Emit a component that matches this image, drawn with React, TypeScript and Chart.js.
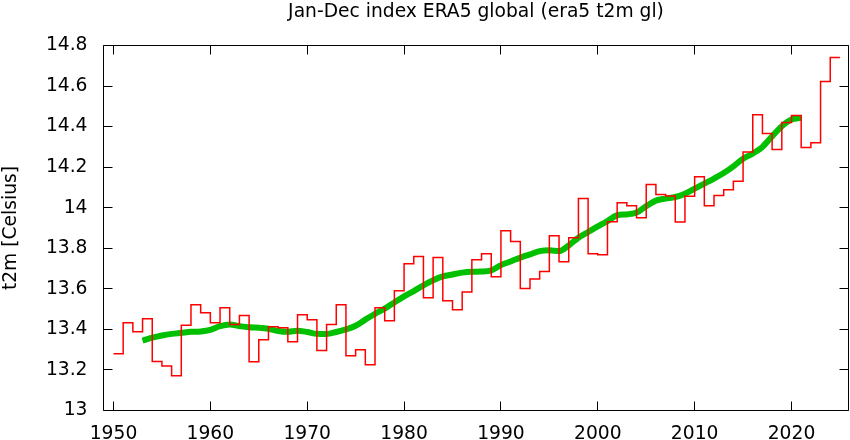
import { useEffect, useRef } from "react";
import { Chart, registerables } from "chart.js";

Chart.register(...registerables);

const TITLE = "Jan-Dec index ERA5 global (era5 t2m gl)";
const Y_TITLE = "t2m [Celsius]";

const annualYears = [
  1950, 1951, 1952, 1953, 1954, 1955, 1956, 1957, 1958, 1959,
  1960, 1961, 1962, 1963, 1964, 1965, 1966, 1967, 1968, 1969,
  1970, 1971, 1972, 1973, 1974, 1975, 1976, 1977, 1978, 1979,
  1980, 1981, 1982, 1983, 1984, 1985, 1986, 1987, 1988, 1989,
  1990, 1991, 1992, 1993, 1994, 1995, 1996, 1997, 1998, 1999,
  2000, 2001, 2002, 2003, 2004, 2005, 2006, 2007, 2008, 2009,
  2010, 2011, 2012, 2013, 2014, 2015, 2016, 2017, 2018, 2019,
  2020, 2021, 2022, 2023, 2024,
];

const annualValues = [
  13.28, 13.433, 13.388, 13.453, 13.242, 13.22, 13.171, 13.42, 13.522, 13.482,
  13.433, 13.507, 13.424, 13.468, 13.241, 13.349, 13.413, 13.408, 13.339, 13.472,
  13.448, 13.296, 13.424, 13.522, 13.27, 13.3, 13.226, 13.507, 13.443, 13.591,
  13.724, 13.76, 13.556, 13.754, 13.541, 13.497, 13.585, 13.744, 13.773, 13.66,
  13.887, 13.834, 13.602, 13.649, 13.685, 13.862, 13.734, 13.852, 14.045, 13.773,
  13.768, 13.931, 14.025, 14.01, 13.951, 14.114, 14.065, 14.058, 13.93, 14.056,
  14.153, 14.01, 14.06, 14.089, 14.13, 14.275, 14.459, 14.366, 14.287, 14.42,
  14.455, 14.297, 14.321, 14.622, 14.741,
];

const smoothYears = [
  1953, 1954, 1955, 1956, 1957, 1958, 1959,
  1960, 1961, 1962, 1963, 1964, 1965, 1966, 1967, 1968, 1969,
  1970, 1971, 1972, 1973, 1974, 1975, 1976, 1977, 1978, 1979,
  1980, 1981, 1982, 1983, 1984, 1985, 1986, 1987, 1988, 1989,
  1990, 1991, 1992, 1993, 1994, 1995, 1996, 1997, 1998, 1999,
  2000, 2001, 2002, 2003, 2004, 2005, 2006, 2007, 2008, 2009,
  2010, 2011, 2012, 2013, 2014, 2015, 2016, 2017, 2018, 2019,
  2020, 2021,
];

const smoothValues = [
  13.344, 13.359, 13.37, 13.378, 13.383, 13.388, 13.39,
  13.398, 13.416, 13.424, 13.416, 13.41, 13.408, 13.403, 13.392, 13.388, 13.393,
  13.387, 13.378, 13.377, 13.387, 13.4, 13.418, 13.448, 13.477, 13.502, 13.533,
  13.563, 13.589, 13.617, 13.642, 13.661, 13.671, 13.68, 13.684, 13.685, 13.691,
  13.717, 13.735, 13.754, 13.77, 13.786, 13.79, 13.786, 13.814, 13.852, 13.88,
  13.908, 13.934, 13.963, 13.967, 13.976, 14.008, 14.035, 14.045, 14.053, 14.069,
  14.094, 14.119, 14.144, 14.171, 14.204, 14.242, 14.267, 14.3, 14.352, 14.402,
  14.435, 14.443,
];

const xTickValues = [1950, 1960, 1970, 1980, 1990, 2000, 2010, 2020];
const yTickValues = [13, 13.2, 13.4, 13.6, 13.8, 14, 14.2, 14.4, 14.6, 14.8];

const X_MIN = 1948.968;
const X_MAX = 2025.885;
const Y_MIN = 13;
const Y_MAX = 14.8;

const FONT_FAMILY = "'DejaVu Sans', sans-serif";
const FONT_SIZE = 18.7;
const TICK_LEN = 9;

const framePlugin = {
  id: "gnuFrame",
  afterDraw(chart: any) {
    const { ctx, chartArea, scales } = chart;
    const { left, right, top, bottom } = chartArea;
    const x = scales.x;
    const y = scales.y;
    ctx.save();
    ctx.strokeStyle = "#000";
    ctx.lineWidth = 1;
    ctx.beginPath();
    const L = Math.floor(left) + 0.5;
    const R = Math.floor(right) + 0.5;
    const T = Math.floor(top) + 0.5;
    const B = Math.floor(bottom) + 0.5;
    ctx.rect(L, T, R - L, B - T);
    for (const v of xTickValues) {
      const px = Math.floor(x.getPixelForValue(v)) + 0.5;
      ctx.moveTo(px, B);
      ctx.lineTo(px, B - TICK_LEN);
      ctx.moveTo(px, T);
      ctx.lineTo(px, T + TICK_LEN);
    }
    for (const v of yTickValues) {
      const py = Math.floor(y.getPixelForValue(v)) + 0.5;
      ctx.moveTo(L, py);
      ctx.lineTo(L + TICK_LEN, py);
      ctx.moveTo(R, py);
      ctx.lineTo(R - TICK_LEN, py);
    }
    ctx.stroke();

    ctx.fillStyle = "#000";
    ctx.font = `${FONT_SIZE}px ${FONT_FAMILY}`;
    ctx.textAlign = "center";
    ctx.textBaseline = "middle";
    ctx.fillText(TITLE, (left + right) / 2, 12);

    ctx.translate(11, (top + bottom) / 2);
    ctx.rotate(-Math.PI / 2);
    ctx.fillText(Y_TITLE, 0, 0);
    ctx.restore();
  },
};

export default function App() {
  const ref = useRef<HTMLCanvasElement>(null);

  useEffect(() => {
    document.body.style.margin = "0";
    const canvas = ref.current;
    if (!canvas) return;

    const stepData = annualYears.map((yr, i) => ({ x: yr, y: annualValues[i] }));
    stepData.push({
      x: annualYears[annualYears.length - 1] + 1,
      y: annualValues[annualValues.length - 1],
    });
    const smoothData = smoothYears.map((yr, i) => ({ x: yr, y: smoothValues[i] }));

    const chart = new Chart(canvas, {
      type: "line",
      data: {
        datasets: [
          {
            label: "annual",
            data: stepData,
            stepped: "before",
            borderColor: "#ff0000",
            borderWidth: 1.5,
            pointRadius: 0,
            fill: false,
            order: 0,
          },
          {
            label: "smoothed",
            data: smoothData,
            borderColor: "#00c000",
            borderWidth: 6,
            pointRadius: 0,
            cubicInterpolationMode: "monotone",
            fill: false,
            order: 1,
          },
        ],
      },
      options: {
        animation: false,
        responsive: false,
        devicePixelRatio: 1,
        layout: { padding: { left: 0, right: 1.5, top: 45.5, bottom: 0 } },
        plugins: {
          legend: { display: false },
          tooltip: { enabled: false },
          title: { display: false },
        },
        font: { family: FONT_FAMILY, size: FONT_SIZE },
        scales: {
          x: {
            type: "linear",
            min: X_MIN,
            max: X_MAX,
            grid: { display: false, drawTicks: false },
            border: { display: false },
            afterBuildTicks: (scale: any) => {
              scale.ticks = xTickValues.map((v) => ({ value: v }));
            },
            afterFit: (scale: any) => {
              scale.height = 29.5;
            },
            ticks: {
              color: "#000",
              padding: 12,
              maxRotation: 0,
              autoSkip: false,
              font: { family: FONT_FAMILY, size: FONT_SIZE },
              callback: (v: any) => String(v),
            },
          },
          y: {
            type: "linear",
            min: Y_MIN,
            max: Y_MAX,
            grid: { display: false, drawTicks: false },
            border: { display: false },
            afterBuildTicks: (scale: any) => {
              scale.ticks = yTickValues.map((v) => ({ value: v }));
            },
            afterFit: (scale: any) => {
              scale.width = 103.5;
            },
            ticks: {
              color: "#000",
              padding: 16,
              autoSkip: false,
              font: { family: FONT_FAMILY, size: FONT_SIZE },
              callback: (v: any) => String(Number(Number(v).toFixed(1))),
            },
          },
        },
      },
      plugins: [framePlugin],
    });

    return () => chart.destroy();
  }, []);

  return (
    <div style={{ position: "absolute", left: 0, top: 0, width: 850, height: 440 }}>
      <canvas
        ref={ref}
        width={850}
        height={440}
        style={{ width: 850, height: 440, display: "block" }}
      />
    </div>
  );
}
